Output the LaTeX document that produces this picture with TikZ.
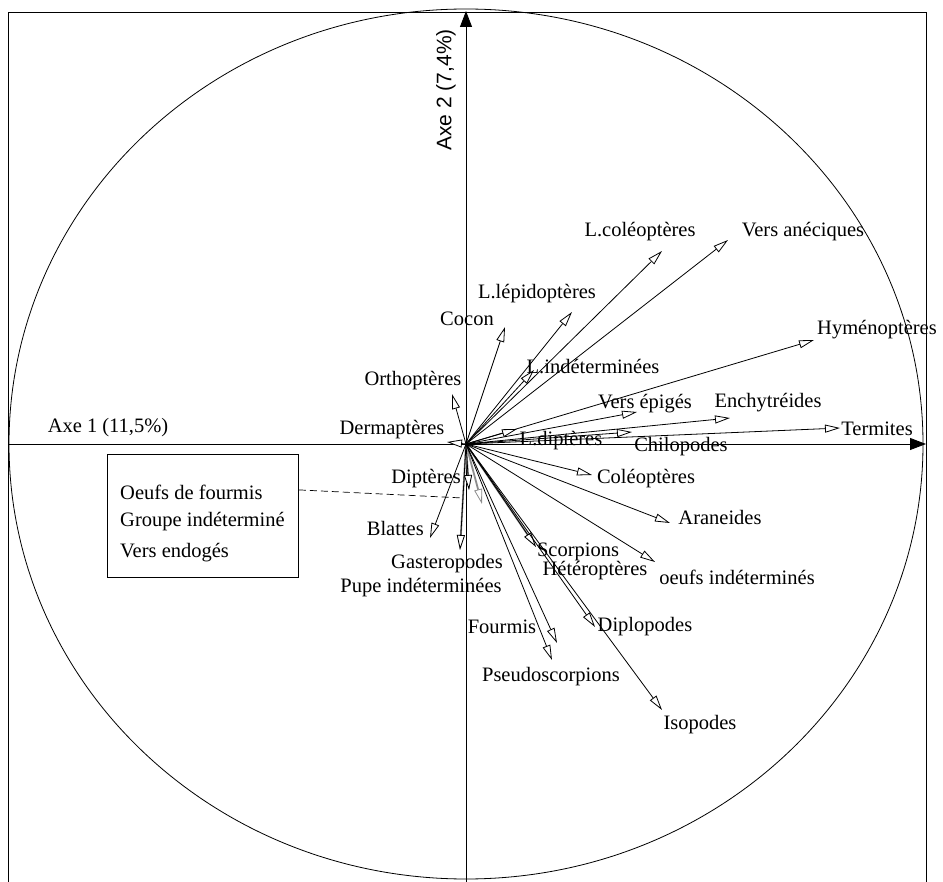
\documentclass[tikz,border=0pt]{standalone}
\usepackage{fontspec}
\setmainfont{Liberation Serif}
\newfontfamily\axfont{Liberation Sans}
\usetikzlibrary{arrows.meta}
\begin{document}
\begin{tikzpicture}[x=1pt,y=-1pt,
  lab/.style={font=\fontsize{20.5}{24}\selectfont, inner sep=0pt},
  vec/.style={line width=0.8pt, -{Triangle[length=15pt,width=8pt,fill=white,line width=0.8pt]}},
  gvec/.style={vec, draw=black!45, line width=1.8pt},
  axisarrow/.style={line width=0.8pt, -{Triangle[length=16pt,width=12pt]}},
]
\useasboundingbox (0,0) rectangle (943,882);
% frame and circle
\coordinate (F1) at (8,882);
\coordinate (F2) at (8,12);
\coordinate (F3) at (926,12);
\coordinate (F4) at (926,882);
\draw[line width=0.8pt] (F1) -- (F2) -- (F3) -- (F4);
\coordinate (O) at (466,444);
\draw[line width=0.8pt] (O) ellipse [x radius=457, y radius=435];
% axes
\coordinate (AL) at (8,444);
\coordinate (AR) at (926,444);
\coordinate (AB) at (466,882);
\coordinate (AT) at (466,11);
\draw[axisarrow] (AL) -- (AR);
\draw[axisarrow] (AB) -- (AT);
\node[lab] (ax1) at (108,428) {Axe 1 (11,5\%)};
\node[lab, font=\axfont\fontsize{21}{24}\selectfont, rotate=90] (ax2) at (446,90) {Axe 2 (7,4\%)};
% gray (scanned) vectors
\foreach \n/\x/\y in {Gast/460/550, Pupe/482/504, Dipt/469/490, Scor/536/547}{
  \coordinate (g\n) at (\x,\y);
  \draw[gvec] (O) -- (g\n);
}
% vectors
\foreach \n/\x/\y in {Derm/447/442, Orth/452/394, Cocon/505/327, Llep/572/312,
  Lcol/662/251, Vane/728/240, Lind/534/370, Hym/814/340, Vepi/637/412,
  Ench/730/418, Term/840/428, Ldip/517/429, Chil/632/432, Cole/592/475,
  Aran/670/523, Oeuf/655/562, Scorp/536/547, Dipl/595/627, Iso/662/710,
  Four/557/643, Pseu/552/660, Blat/430/538, Dipt/469/490, Gast/460/550}{
  \coordinate (t\n) at (\x,\y);
  \draw[vec] (O) -- (t\n);
}
% labels
\node[lab] (lLcol) at (640,232) {L.coléoptères};
\node[lab] (lVane) at (803,232) {Vers anéciques};
\node[lab] (lHym) at (877,330) {Hyménoptères};
\node[lab] (lLlep) at (537,294) {L.lépidoptères};
\node[lab] (lCocon) at (467,319) {Cocon};
\node[lab] (lLind) at (593,367) {L.indéterminées};
\node[lab] (lOrth) at (413,381) {Orthoptères};
\node[lab] (lDerm) at (392,430) {Dermaptères};
\node[lab] (lVepi) at (645,404) {Vers épigés};
\node[lab] (lEnch) at (768,403) {Enchytréides};
\node[lab] (lTerm) at (877,429) {Termites};
\node[lab] (lLdip) at (561,441) {L.diptères};
\node[lab] (lChil) at (681,447) {Chilopodes};
\node[lab] (lCole) at (646,479) {Coléoptères};
\node[lab] (lDipt) at (426,479) {Diptères};
\node[lab] (lAran) at (720,517) {Araneides};
\node[lab, anchor=east] (lBlat) at (424,528) {Blattes};
\node[lab] (lScor) at (578,552) {Scorpions};
\node[lab] (lHete) at (595,571) {Hétéroptères};
\node[lab] (lOeuf) at (737,577) {oeufs indéterminés};
\node[lab] (lGast) at (447,564) {Gasteropodes};
\node[lab] (lPupe) at (421,588) {Pupe indéterminées};
\node[lab] (lFour) at (502,627) {Fourmis};
\node[lab] (lDipl) at (645,627) {Diplopodes};
\node[lab] (lPseu) at (551,677) {Pseudoscorpions};
\node[lab] (lIso) at (700,725) {Isopodes};
% box with unprojected groups
\node[draw, line width=0.8pt, anchor=north west, minimum width=191pt, minimum height=123pt, inner sep=0pt] (box) at (107,454) {};
\node[lab, anchor=west] (b1) at (120,492) {Oeufs de fourmis};
\node[lab, anchor=west] (b2) at (120,522) {Groupe indéterminé};
\node[lab, anchor=west] (b3) at (120,553) {Vers endogés};
\coordinate (dEnd) at (463,498);
\draw[line width=0.7pt, dash pattern=on 7pt off 4pt] ([yshift=26pt]box.east) -- (dEnd);
\end{tikzpicture}
\end{document}
